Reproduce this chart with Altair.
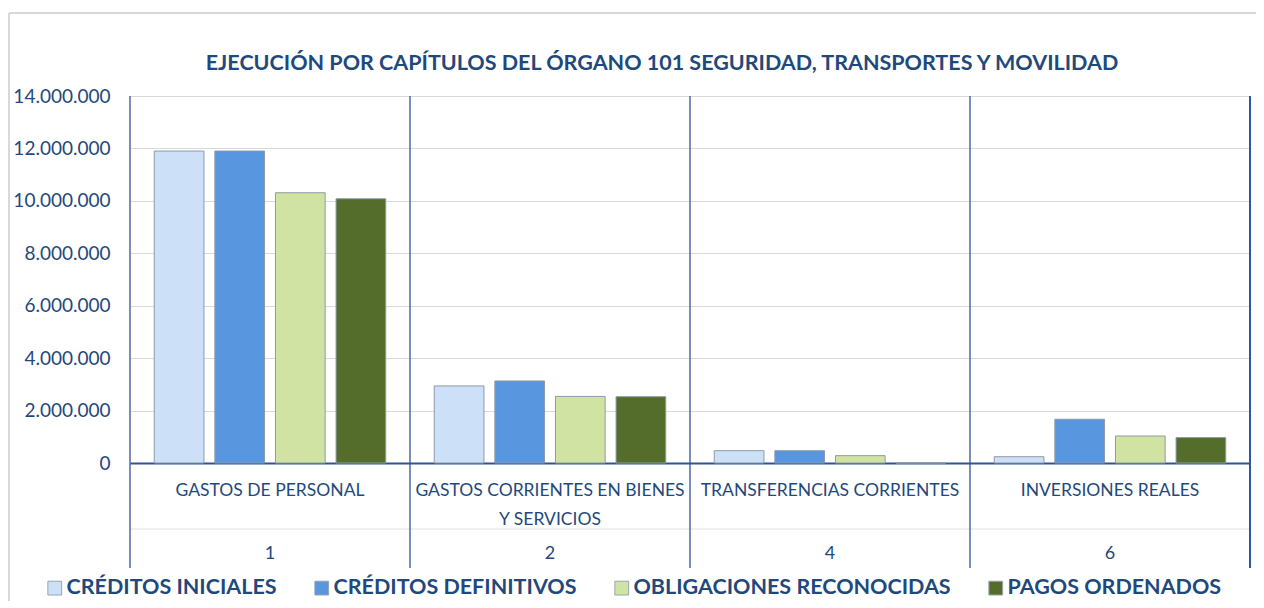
import altair as alt
import pandas as pd

# ---- data ----
capitulos = ["1", "2", "4", "6"]
nombres = ["GASTOS DE PERSONAL", "GASTOS CORRIENTES EN BIENES\nY SERVICIOS",
           "TRANSFERENCIAS CORRIENTES", "INVERSIONES REALES"]
series = ["CRÉDITOS INICIALES", "CRÉDITOS DEFINITIVOS",
          "OBLIGACIONES RECONOCIDAS", "PAGOS ORDENADOS"]
creditos_iniciales = [11900000, 2940000, 470000, 240000]
creditos_definitivos = [11900000, 3130000, 470000, 1670000]
obligaciones_reconocidas = [10310000, 2540000, 280000, 1030000]
pagos_ordenados = [10080000, 2530000, 0, 970000]
y_ticks = [0, 2000000, 4000000, 6000000, 8000000, 10000000, 12000000, 14000000]
titulo = "EJECUCIÓN POR CAPÍTULOS DEL ÓRGANO 101 SEGURIDAD, TRANSPORTES Y MOVILIDAD"

colores = ["#CCE0F8", "#5896DF", "#D1E3A2", "#546D2B"]
TXT = "#1F497D"
LINE = "#2F5597"
FONT = "Lato"

rows = []
for vals, s in zip([creditos_iniciales, creditos_definitivos,
                    obligaciones_reconocidas, pagos_ordenados], series):
    for c, v in zip(capitulos, vals):
        rows.append({"cap": c, "serie": s, "valor": v})
df = pd.DataFrame(rows)
cats = pd.DataFrame({"cap": capitulos, "nombre": nombres})
title_df = pd.DataFrame({"t": [titulo]})

W, H = 1120, 367
xscale = alt.Scale(domain=capitulos, paddingInner=0, paddingOuter=0)

bars = alt.Chart(df).mark_bar(stroke="#8E9AA8", strokeWidth=1).encode(
    x=alt.X("cap:N", scale=xscale,
            axis=alt.Axis(labels=False, ticks=False, title=None,
                          domainColor=LINE, domainWidth=2)),
    xOffset=alt.XOffset("serie:N", sort=series,
                        scale=alt.Scale(domain=series, paddingInner=0.18, paddingOuter=0.4)),
    y=alt.Y("valor:Q", scale=alt.Scale(domain=[0, 14000000], nice=False),
            axis=alt.Axis(values=y_ticks, title=None, domain=False, ticks=False,
                          labelPadding=20, labelFontSize=19, labelFont=FONT,
                          labelColor=TXT, gridColor="#D9D9D9",
                          labelExpr="replace(format(datum.value, ',d'), /,/g, '.')")),
    color=alt.Color("serie:N", sort=series,
                    scale=alt.Scale(domain=series, range=colores),
                    legend=alt.Legend(title=None, orient="none", direction="horizontal",
                                      legendX=-86, legendY=481, symbolType="square",
                                      symbolSize=190, symbolStrokeColor="#9AA5B1",
                                      symbolStrokeWidth=1, labelFont=FONT,
                                      labelFontSize=21.5, labelFontWeight="bold",
                                      labelColor=TXT, labelOffset=1,
                                      columnPadding=34, labelLimit=400)),
)

dividers = alt.Chart(cats).mark_rule(color=LINE, strokeWidth=1.3).encode(
    x=alt.X("cap:N", scale=xscale, bandPosition=0),
    y=alt.value(0), y2=alt.value(472),
)
right_div = alt.Chart(cats).mark_rule(color=LINE, strokeWidth=1.3).encode(
    x=alt.value(W), y=alt.value(0), y2=alt.value(472),
)
faint = alt.Chart(cats).mark_rule(color="#F0F0F0", strokeWidth=1).encode(
    x=alt.value(0), x2=alt.value(W), y=alt.value(433),
)
border_top = alt.Chart(cats).mark_rule(color="#D9D9D9", strokeWidth=1.5).encode(
    x=alt.value(-121), x2=alt.value(W + 6), y=alt.value(-83),
)
border_left = alt.Chart(cats).mark_rule(color="#D9D9D9", strokeWidth=1.5).encode(
    x=alt.value(-121), y=alt.value(-83), y2=alt.value(H + 140),
)

title = alt.Chart(title_df).mark_text(font=FONT, fontSize=21.5, fontWeight="bold",
                                      color=TXT, baseline="middle", align="center").encode(
    x=alt.value(532), y=alt.value(-32), text="t:N",
)

labels = alt.Chart(cats).mark_text(font=FONT, fontSize=17.5, color=TXT,
                                   baseline="middle", lineBreak="\n",
                                   lineHeight=29).encode(
    x=alt.X("cap:N", scale=xscale, bandPosition=0.5),
    y=alt.value(395),
    text="nombre:N",
)
numeros = alt.Chart(cats).mark_text(font=FONT, fontSize=18, color=TXT,
                                    baseline="middle").encode(
    x=alt.X("cap:N", scale=xscale, bandPosition=0.5),
    y=alt.value(458),
    text="cap:N",
)

chart = alt.layer(border_top, border_left, faint, bars, dividers, right_div,
                  labels, numeros, title).properties(
    width=W, height=H,
    autosize=alt.AutoSizeParams(type="none"),
    padding={"left": 122, "top": 88, "right": 6, "bottom": 138},
).configure_view(stroke=None)

chart.save("out.html", embed_options={"renderer": "svg", "actions": False})
